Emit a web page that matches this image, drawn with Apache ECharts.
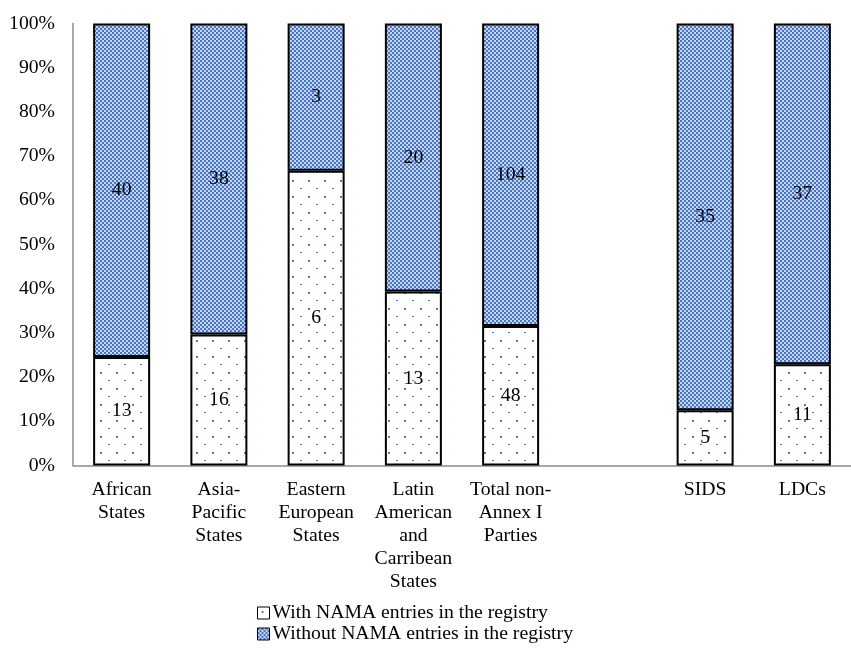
<!DOCTYPE html>
<html>
<head>
<meta charset="utf-8">
<title>NAMA registry entries by group</title>
<script src="https://cdn.jsdelivr.net/npm/echarts@6/dist/echarts.min.js"></script>
<style>
  html, body { margin: 0; padding: 0; background: #ffffff; }
  #chart { width: 851px; height: 650px; }
</style>
</head>
<body>
<div id="chart"></div>
<script>
// Party groups (an empty slot separates the totals from SIDS / LDCs)
const categories = [
  'African\nStates',
  'Asia-\nPacific\nStates',
  'Eastern\nEuropean\nStates',
  'Latin\nAmerican\nand\nCarribean\nStates',
  'Total non-\nAnnex I\nParties',
  '',
  'SIDS',
  'LDCs'
];
// Number of parties with / without NAMA entries in the registry
const withNama    = [13, 16, 6, 13, 48, null, 5, 11];
const withoutNama = [40, 38, 3, 20, 104, null, 35, 37];
const seriesNames = ['With NAMA entries in the registry', 'Without NAMA entries in the registry'];

const FONT = 'Liberation Serif';
const FS = 19.7;

// Fill patterns
function dotPattern() {
  const c = document.createElement('canvas');
  c.width = 16; c.height = 16;
  const g = c.getContext('2d');
  g.fillStyle = '#ffffff';
  g.fillRect(0, 0, 16, 16);
  g.fillStyle = '#4a7cd0';
  g.fillRect(4, 4, 2, 2);
  g.fillRect(12, 12, 2, 1);
  return c;
}
function checkerPattern() {
  const c = document.createElement('canvas');
  c.width = 4; c.height = 4;
  const g = c.getContext('2d');
  g.fillStyle = '#c6d4ee';
  g.fillRect(0, 0, 4, 4);
  g.fillStyle = '#4876c6';
  g.fillRect(0, 0, 2, 2);
  g.fillRect(2, 2, 2, 2);
  return c;
}
const dotFill = { image: dotPattern(), repeat: 'repeat' };
const checkerFill = { image: checkerPattern(), repeat: 'repeat' };

// Shares of each group, in percent
function share(part, other) {
  return part.map((v, i) => (v == null ? '-' : (100 * v) / (v + other[i])));
}
const withPct = share(withNama, withoutNama);
const withoutPct = share(withoutNama, withNama);

const chart = echarts.init(document.getElementById('chart'), null, { renderer: 'canvas' });

function barLabel(counts) {
  return {
    show: true,
    position: 'inside',
    color: '#000000',
    fontFamily: FONT,
    fontSize: FS,
    formatter: p => (counts[p.dataIndex] == null ? '' : String(counts[p.dataIndex]))
  };
}

// One legend block per row, stacked vertically
function legendRow(name, top) {
  return {
    left: 252,
    top: top,
    itemWidth: 12,
    itemHeight: 12,
    itemGap: 0,
    icon: 'rect',
    itemStyle: { borderColor: '#000000', borderWidth: 1 },
    textStyle: { fontFamily: FONT, fontSize: FS, color: '#000000', padding: [0, 0, 0, -2] },
    data: [name]
  };
}

chart.setOption({
  animation: false,
  backgroundColor: '#ffffff',
  textStyle: { fontFamily: FONT },
  grid: { left: 73, top: 23.5, width: 790, height: 442, containLabel: false },
  legend: [legendRow(seriesNames[0], 598), legendRow(seriesNames[1], 619)],
  xAxis: {
    type: 'category',
    data: categories,
    axisLine: { show: true, lineStyle: { color: '#8c8c8c', width: 1.5 } },
    axisTick: { show: false },
    axisLabel: {
      interval: 0,
      margin: 13,
      color: '#000000',
      fontFamily: FONT,
      fontSize: FS,
      lineHeight: 23
    }
  },
  yAxis: {
    type: 'value',
    min: 0,
    max: 100,
    interval: 10,
    axisLine: { show: true, lineStyle: { color: '#8c8c8c', width: 1.5 } },
    axisTick: { show: false },
    splitLine: { show: false },
    axisLabel: {
      margin: 18,
      color: '#000000',
      fontFamily: FONT,
      fontSize: FS,
      formatter: '{value}%'
    }
  },
  series: [
    {
      name: seriesNames[0],
      type: 'bar',
      stack: 'share',
      barWidth: 57,
      data: withPct,
      itemStyle: { color: dotFill, borderColor: '#000000', borderWidth: 2 },
      label: barLabel(withNama)
    },
    {
      name: seriesNames[1],
      type: 'bar',
      stack: 'share',
      barWidth: 57,
      data: withoutPct,
      itemStyle: { color: checkerFill, borderColor: '#000000', borderWidth: 2 },
      label: barLabel(withoutNama)
    }
  ]
});
</script>
</body>
</html>
